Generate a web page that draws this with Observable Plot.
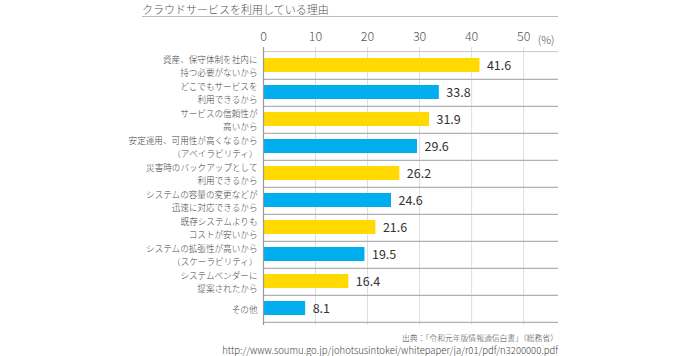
<!DOCTYPE html>
<html>
<head>
<meta charset="utf-8">
<script src="https://cdn.jsdelivr.net/npm/d3@7"></script>
<script src="https://cdn.jsdelivr.net/npm/@observablehq/plot@0.6"></script>
<style>
  html, body { margin: 0; padding: 0; background: #fff; }
  #wrap { position: relative; width: 700px; height: 356px; overflow: hidden; font-family: "Noto Sans CJK JP", "Noto Sans", sans-serif; }
  #title { position: absolute; left: 142px; top: 1px; font-size: 11px; color: #555; line-height: 16px; white-space: nowrap; font-weight: 300; }
  #rule { position: absolute; left: 142px; top: 16px; width: 416px; height: 0; border-top: 1px solid #bbb; }
  #cap1, #cap2 { position: absolute; right: 142px; white-space: nowrap; color: #444; font-weight: 300; }
  #cap1 { top: 332px; font-size: 7.8px; line-height: 11px; }
  #cap2 { top: 344px; font-size: 9.5px; line-height: 12px; }
  #chart { position: absolute; left: 0; top: 0; }
</style>
</head>
<body>
<div id="wrap">
  <div id="chart"></div>
  <div id="title">クラウドサービスを利用している理由</div>
  <div id="rule"></div>
  <div id="cap1">出典：「令和元年版情報通信白書」（総務省）</div>
  <div id="cap2">http://www.soumu.go.jp/johotsusintokei/whitepaper/ja/r01/pdf/n3200000.pdf</div>
</div>
<script>
const categories = [
  "資産、保守体制を社内に\n持つ必要がないから",
  "どこでもサービスを\n利用できるから",
  "サービスの信頼性が\n高いから",
  "安定運用、可用性が高くなるから\n（アベイラビリティ）",
  "災害時のバックアップとして\n利用できるから",
  "システムの容量の変更などが\n迅速に対応できるから",
  "既存システムよりも\nコストが安いから",
  "システムの拡張性が高いから\n（スケーラビリティ）",
  "システムベンダーに\n提案されたから",
  "その他"
];
const values = [41.6, 33.8, 31.9, 29.6, 26.2, 24.6, 21.6, 19.5, 16.4, 8.1];
const xTicks = [0, 10, 20, 30, 40, 50];
const gridTicks = [10, 20, 30, 40, 50];

const data = categories.map((c, i) => ({category: c, value: values[i], idx: i}));

const W = 700, H = 356;
const mTop = 47, mBottom = 31, mLeft = 263, mRight = 142;
const step = (H - mTop - mBottom) / categories.length;
const YELLOW = "#FFD900", BLUE = "#00AEEF";
const font = "'Noto Sans CJK JP', 'Noto Sans', sans-serif";

const chart = Plot.plot({
  width: W,
  height: H,
  marginTop: mTop,
  marginBottom: mBottom,
  marginLeft: mLeft,
  marginRight: mRight,
  style: {fontFamily: font, background: "transparent", overflow: "visible"},
  x: {domain: [0, 56.7], axis: null, label: null},
  y: {domain: categories, paddingInner: 0.5, paddingOuter: 0.25, axis: null, label: null},
  marks: [
    Plot.ruleX(gridTicks, {stroke: "#dedede", strokeWidth: 1}),
    Plot.ruleY(categories, {y: d => d, dy: step / 2, stroke: "#b0b0b0", strokeWidth: 1.2}),
    Plot.ruleY([categories[0]], {y: d => d, dy: -step / 2, stroke: "#c8c8c8", strokeWidth: 1}),
    Plot.barX(data, {
      y: "category",
      x: "value",
      fill: d => d.idx % 2 === 0 ? YELLOW : BLUE
    }),
    Plot.ruleX([0], {stroke: "#999", strokeWidth: 1.2}),
    Plot.text(data, {
      y: "category",
      x: "value",
      text: d => d.value.toFixed(1),
      dx: 7,
      textAnchor: "start",
      fontSize: 12.5,
      fill: "#333"
    }),
    Plot.text(data, {
      y: "category",
      x: 0,
      text: "category",
      dx: -6,
      textAnchor: "end",
      fontSize: 8.6,
      fontWeight: 300,
      lineHeight: 1.55,
      fill: "#444"
    }),
    Plot.axisX({
      anchor: "top",
      ticks: xTicks,
      tickSize: 0,
      tickPadding: 7,
      fontSize: 12.5,
      fontWeight: 300,
      fill: "#555",
      label: null,
      tickFormat: d => String(d)
    }),
    Plot.text(["(%)"], {
      frameAnchor: "top-right",
      text: d => d,
      dy: -11,
      dx: -4,
      textAnchor: "end",
      fontSize: 11,
      fontWeight: 300,
      fill: "#555"
    })
  ]
});
document.getElementById("chart").appendChild(chart);
</script>
</body>
</html>
